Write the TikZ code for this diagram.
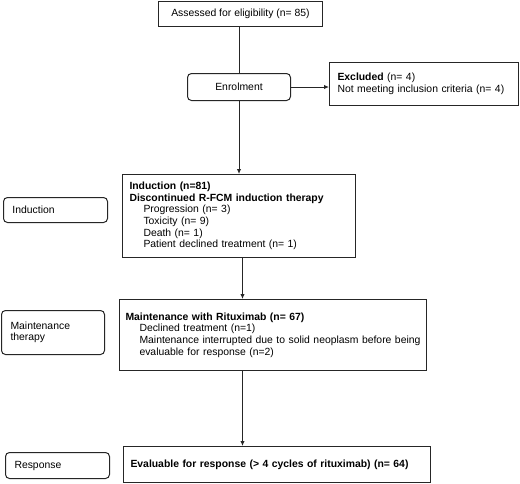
\documentclass[tikz,border=0pt]{standalone}
\usepackage{fontspec}
\setmainfont{Liberation Sans}
\usetikzlibrary{arrows.meta,calc}
\begin{document}
\begin{tikzpicture}[x=1pt,y=-1pt,
 box/.style={draw=black!85, line width=1pt, anchor=north west, inner ysep=0pt, font=\fontsize{10.4}{11.6}\selectfont},
 lbl/.style={box, rounded corners=4pt},
 arr/.style={draw=black!85, line width=1pt, -{Latex[length=5pt,width=4.5pt]}},
 ln/.style={draw=black!85, line width=1pt}]
\useasboundingbox (0,0) rectangle (520,483);
\fill[white] (0,0) rectangle (520,483);

\node[box, inner xsep=0pt, minimum width=164pt, minimum height=25pt, align=center] (assess) at (158,1) {Assessed for eligibility (n= 85)};
\node[lbl, inner xsep=0pt, minimum width=103pt, minimum height=27pt, align=center] (enrol) at (187,73) {Enrolment};
\node[box, inner xsep=8pt, text width=173pt, minimum height=43pt, align=left] (excl) at (329,62) {\textbf{Excluded} (n= 4)\\Not meeting inclusion criteria (n= 4)};

\node[box, inner xsep=7pt, text width=219pt, minimum height=83pt, align=left] (ind) at (122,174) {\textbf{Induction (n=81)}\\\textbf{Discontinued R-FCM induction therapy}\\\hspace*{14pt}Progression (n= 3)\\\hspace*{14pt}Toxicity (n= 9)\\\hspace*{14pt}Death (n= 1)\\\hspace*{14pt}Patient declined treatment (n= 1)};

\node[box, inner xsep=6pt, text width=295pt, minimum height=71pt, align=left] (maint) at (119,299) {\textbf{Maintenance with Rituximab (n= 67)}\\\hspace*{14pt}Declined treatment (n=1)\\\hspace*{14pt}Maintenance interrupted due to solid neoplasm before being\\\hspace*{14pt}evaluable for response (n=2)};

\node[box, inner xsep=7pt, text width=293pt, minimum height=36pt, align=left] (resp) at (123,446) {\textbf{Evaluable for response (> 4 cycles of rituximab) (n= 64)}};

\node[lbl, inner xsep=9pt, text width=86pt, minimum height=25pt, align=left] (lind) at (3,197) {Induction};
\node[lbl, inner xsep=9pt, text width=85pt, minimum height=44pt, align=left] (lmaint) at (1,310) {Maintenance\\therapy};
\node[lbl, inner xsep=9pt, text width=86pt, minimum height=26pt, align=left] (lresp) at (5,452) {Response};

\draw[ln] (assess.south -| enrol.north) -- (enrol.north);
\draw[arr] (enrol.east) -- (excl.west |- enrol.east);
\draw[arr] (enrol.south) -- (enrol.south |- ind.north);
\coordinate (c1) at ([xshift=3.5pt]ind.south);
\draw[arr] (c1) -- (c1 |- maint.north);
\draw[arr] (c1 |- maint.south) -- (c1 |- resp.north);
\end{tikzpicture}
\end{document}
